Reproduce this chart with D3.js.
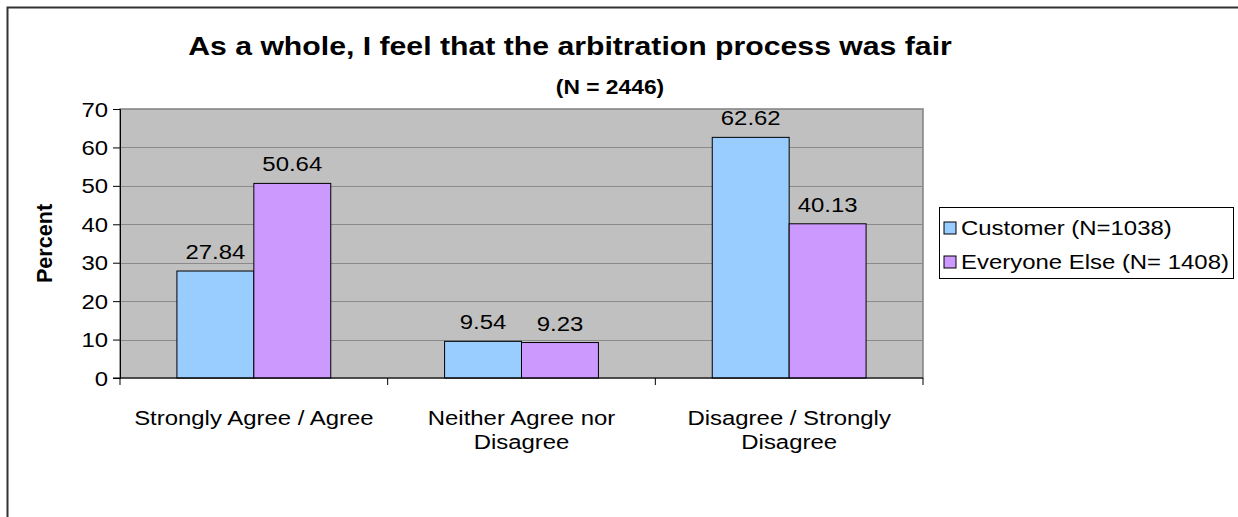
<!DOCTYPE html>
<html>
<head>
<meta charset="utf-8">
<script src="https://cdn.jsdelivr.net/npm/d3@7"></script>
<style>
  body { margin: 0; background: #fff; }
  svg text { font-family: "Liberation Sans", Arial, sans-serif; fill: #000; }
</style>
</head>
<body>
<div id="chart"></div>
<script>
var categories = [["Strongly Agree / Agree"], ["Neither Agree nor", "Disagree"], ["Disagree / Strongly", "Disagree"]];
var seriesNames = ["Customer (N=1038)", "Everyone Else (N= 1408)"];
var customer = [27.84, 9.54, 62.62];
var everyoneElse = [50.64, 9.23, 40.13];
var yTicks = [0, 10, 20, 30, 40, 50, 60, 70];
var colors = ["#99ccff", "#cc99ff"];

var W = 1238, H = 517;
var plot = {left: 120, top: 109, right: 923, bottom: 378};
var sx = 1.14; // text in the original is drawn a bit wide

var svg = d3.select("#chart").append("svg")
    .attr("width", W)
    .attr("height", H);

// puts a horizontally widened text at x,y
function wideText(parent, x, y, str, size, anchor, weight) {
    return parent.append("text")
        .attr("transform", "translate(" + x + "," + y + ") scale(" + sx + ",1)")
        .attr("text-anchor", anchor || "middle")
        .attr("font-size", size)
        .attr("font-weight", weight || "normal")
        .text(str);
}

// outer frame (top and left edges visible)
svg.append("path")
    .attr("d", "M7.5," + H + "V7.5H" + W)
    .attr("fill", "none")
    .attr("stroke", "#333")
    .attr("stroke-width", 2);

var x0 = d3.scaleBand()
    .domain(d3.range(categories.length))
    .range([plot.left, plot.right]);

var x1 = d3.scaleBand()
    .domain([0, 1])
    .range([0, x0.bandwidth()])
    .paddingOuter(0.74);

var y = d3.scaleLinear()
    .domain([0, 70])
    .range([plot.bottom, plot.top]);

// plot background
svg.append("rect")
    .attr("x", plot.left)
    .attr("y", plot.top)
    .attr("width", plot.right - plot.left)
    .attr("height", plot.bottom - plot.top)
    .attr("fill", "#c0c0c0")
    .attr("stroke", "#808080")
    .attr("stroke-width", 1.5);

// gridlines
svg.selectAll("line.grid")
    .data(yTicks.filter(function(d) { return d > 0 && d < 70; }))
    .enter().append("line")
    .attr("class", "grid")
    .attr("x1", plot.left)
    .attr("x2", plot.right)
    .attr("y1", function(d) { return Math.round(y(d)) + 0.5; })
    .attr("y2", function(d) { return Math.round(y(d)) + 0.5; })
    .attr("stroke", "#8a8a8a")
    .attr("stroke-width", 1);

// bars
var rows = categories.map(function(c, i) { return [customer[i], everyoneElse[i]]; });

var groups = svg.selectAll("g.cat")
    .data(rows)
    .enter().append("g")
    .attr("class", "cat")
    .attr("transform", function(d, i) { return "translate(" + x0(i) + ",0)"; });

groups.selectAll("rect")
    .data(function(d) { return d; })
    .enter().append("rect")
    .attr("x", function(d, j) { return x1(j); })
    .attr("y", function(d) { return y(d); })
    .attr("width", x1.bandwidth())
    .attr("height", function(d) { return y(0) - y(d); })
    .attr("fill", function(d, j) { return colors[j]; })
    .attr("stroke", "#000")
    .attr("stroke-width", 1);

groups.each(function(d) {
    var g = d3.select(this);
    d.forEach(function(v, j) {
        wideText(g, x1(j) + x1.bandwidth() / 2, y(v) - 12, v.toFixed(2), 21);
    });
});

// y axis
var yAxis = svg.append("g")
    .attr("transform", "translate(" + plot.left + ",0)")
    .call(d3.axisLeft(y).tickValues(yTicks).tickSize(7).tickPadding(0).tickFormat(""));
yAxis.select(".domain").attr("stroke", "#000");
yAxis.selectAll(".tick line").attr("stroke", "#000");
yAxis.selectAll(".tick").each(function(d) {
    wideText(d3.select(this), -12, 7, d, 21, "end");
});

// x axis
var xAxis = svg.append("g")
    .attr("transform", "translate(0," + plot.bottom + ")");
xAxis.append("line")
    .attr("x1", plot.left - 7)
    .attr("x2", plot.right)
    .attr("stroke", "#000");
xAxis.selectAll("line.xt")
    .data(d3.range(categories.length + 1))
    .enter().append("line")
    .attr("class", "xt")
    .attr("x1", function(i) { return i < categories.length ? x0(i) : plot.right; })
    .attr("x2", function(i) { return i < categories.length ? x0(i) : plot.right; })
    .attr("y1", 0)
    .attr("y2", 7)
    .attr("stroke", "#000");

categories.forEach(function(lines, i) {
    lines.forEach(function(s, k) {
        wideText(xAxis, x0(i) + x0.bandwidth() / 2, 47 + k * 24, s, 21);
    });
});

// y axis title
svg.append("text")
    .attr("transform", "translate(52," + ((plot.top + plot.bottom) / 2) + ") rotate(-90) scale(1.08," + sx + ")")
    .attr("text-anchor", "middle")
    .attr("font-size", 20)
    .attr("font-weight", "bold")
    .text("Percent");

// titles
wideText(svg, 570, 55, "As a whole, I feel that the arbitration process was fair", 26.5, "middle", "bold");
wideText(svg, 610, 94, "(N = 2446)", 20, "middle", "bold");

// legend
var legend = svg.append("g").attr("transform", "translate(939,207)");
legend.append("rect")
    .attr("x", 0.5)
    .attr("y", 0.5)
    .attr("width", 294)
    .attr("height", 71)
    .attr("fill", "#fff")
    .attr("stroke", "#000");

seriesNames.forEach(function(name, i) {
    var item = legend.append("g")
        .attr("transform", "translate(5," + (21 + i * 34) + ")");
    item.append("rect")
        .attr("x", 0)
        .attr("y", -6)
        .attr("width", 12)
        .attr("height", 12)
        .attr("fill", colors[i])
        .attr("stroke", "#000");
    wideText(item, 17, 7, name, 21, "start");
});
</script>
</body>
</html>
